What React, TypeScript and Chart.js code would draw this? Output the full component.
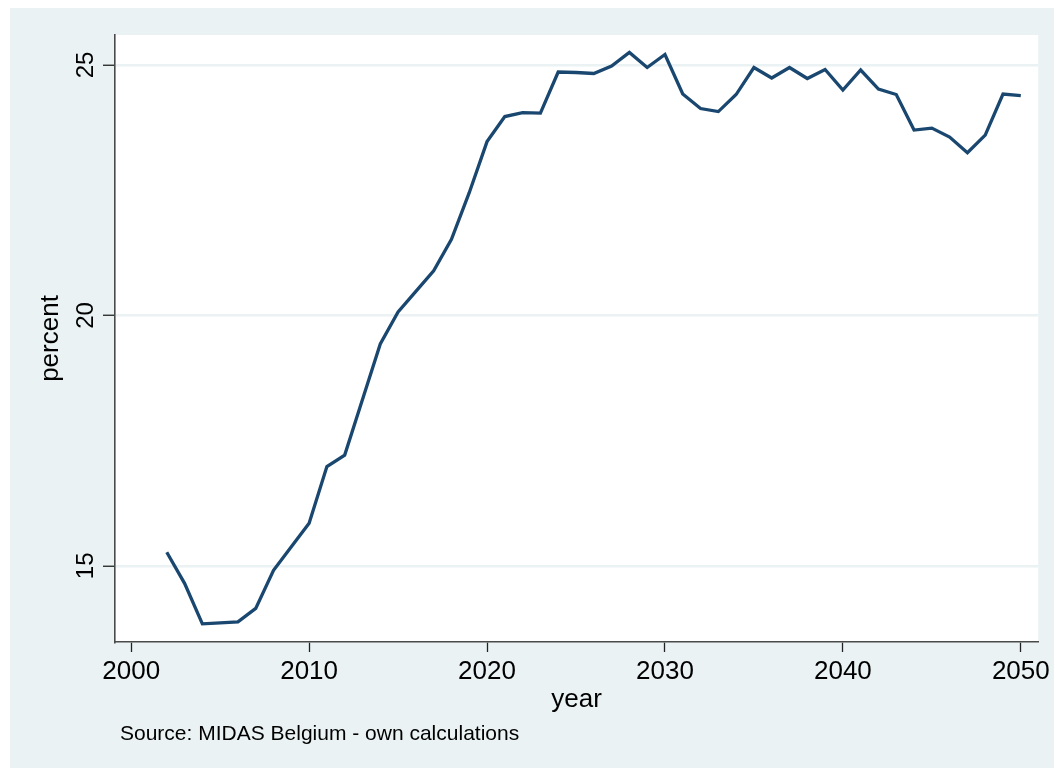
import React, { useEffect, useRef } from "react";
import { Chart, registerables } from "chart.js";

Chart.register(...registerables);

const YEARS = [
  2002, 2003, 2004, 2005, 2006, 2007, 2008, 2009, 2010, 2011,
  2012, 2013, 2014, 2015, 2016, 2017, 2018, 2019, 2020, 2021,
  2022, 2023, 2024, 2025, 2026, 2027, 2028, 2029, 2030, 2031,
  2032, 2033, 2034, 2035, 2036, 2037, 2038, 2039, 2040, 2041,
  2042, 2043, 2044, 2045, 2046, 2047, 2048, 2049, 2050,
];

const PERCENT = [
  15.27, 14.65, 13.84, 13.86, 13.88, 14.15, 14.91, 15.38, 15.85, 16.98,
  17.21, 18.32, 19.43, 20.07, 20.48, 20.89, 21.52, 22.45, 23.47, 23.97,
  24.05, 24.04, 24.86, 24.85, 24.83, 24.98, 25.25, 24.95, 25.21, 24.42,
  24.13, 24.07, 24.41, 24.95, 24.74, 24.95, 24.73, 24.91, 24.5, 24.9,
  24.52, 24.41, 23.7, 23.74, 23.56, 23.25, 23.6, 24.42, 24.39,
];

const X_TICKS = [2000, 2010, 2020, 2030, 2040, 2050];
const Y_TICKS = [15, 20, 25];

const X_TITLE = "year";
const Y_TITLE = "percent";
const SOURCE_NOTE = "Source: MIDAS Belgium - own calculations";

const FONT = "'Liberation Sans', Arial, Helvetica, sans-serif";
const BG = "#EAF2F3";
const LINE = "#1A476F";

export default function App() {
  const ref = useRef<HTMLCanvasElement | null>(null);

  useEffect(() => {
    const canvas = ref.current;
    if (!canvas) return;

    const bgPlugin = {
      id: "stataBg",
      beforeDraw(chart: any) {
        const { ctx, chartArea, width, height } = chart;
        ctx.save();
        ctx.fillStyle = "#ffffff";
        ctx.fillRect(0, 0, width, height);
        ctx.fillStyle = BG;
        ctx.fillRect(10, 8, width - 10, height - 9);
        ctx.fillStyle = "#ffffff";
        ctx.fillRect(
          chartArea.left,
          chartArea.top,
          chartArea.right - chartArea.left,
          chartArea.bottom - chartArea.top
        );
        ctx.restore();
      },
      afterDraw(chart: any) {
        const { ctx } = chart;
        const y = chart.scales.y;
        ctx.save();
        ctx.fillStyle = "#000";
        ctx.font = `24px ${FONT}`;
        ctx.textAlign = "center";
        ctx.textBaseline = "alphabetic";
        for (const t of y.ticks) {
          const py = y.getPixelForValue(t.value);
          ctx.save();
          ctx.translate(93, py);
          ctx.rotate(-Math.PI / 2);
          ctx.fillText(String(t.value), 0, 0);
          ctx.restore();
        }
        ctx.font = `21px ${FONT}`;
        ctx.textAlign = "left";
        ctx.fillText(SOURCE_NOTE, 120, 740);
        ctx.restore();
      },
    };

    const chart = new Chart(canvas, {
      type: "line",
      data: {
        datasets: [
          {
            data: YEARS.map((yr, i) => ({ x: yr, y: PERCENT[i] })),
            borderColor: LINE,
            borderWidth: 3.3,
            pointRadius: 0,
            tension: 0,
            fill: false,
          },
        ],
      },
      plugins: [bgPlugin],
      options: {
        animation: false,
        responsive: false,
        events: [],
        layout: { padding: { left: 0, top: 35, right: 15, bottom: 0 } },
        plugins: {
          legend: { display: false },
          tooltip: { enabled: false },
          title: { display: false },
        },
        scales: {
          x: {
            type: "linear",
            min: 1999.09,
            max: 2050.98,
            afterBuildTicks(scale: any) {
              scale.ticks = X_TICKS.map((v) => ({ value: v }));
            },
            afterFit(scale: any) {
              scale.height = 127;
            },
            grid: {
              drawOnChartArea: false,
              drawTicks: true,
              tickLength: 10,
              tickColor: "#222",
              tickWidth: 1.3,
            },
            border: { display: true, color: "#4a4a4a", width: 1.6 },
            ticks: {
              color: "#000",
              font: { family: FONT, size: 26 },
              padding: 4,
              maxRotation: 0,
              minRotation: 0,
              callback: (v: any) => String(v),
            },
            title: {
              display: true,
              text: X_TITLE,
              color: "#000",
              font: { family: FONT, size: 26 },
              padding: { top: 0, bottom: 54 },
            },
          },
          y: {
            type: "linear",
            min: 13.478,
            max: 25.599,
            afterBuildTicks(scale: any) {
              scale.ticks = Y_TICKS.map((v) => ({ value: v }));
            },
            afterFit(scale: any) {
              scale.width = 115;
            },
            grid: {
              drawOnChartArea: true,
              color: BG,
              lineWidth: 2.5,
              drawTicks: true,
              tickLength: 12,
              tickColor: "#222",
              tickWidth: 1.3,
            },
            border: { display: true, color: "#4a4a4a", width: 1.6 },
            ticks: { display: false },
            title: {
              display: true,
              text: Y_TITLE,
              color: "#000",
              font: { family: FONT, size: 26 },
              padding: { top: 35, bottom: 0 },
            },
          },
        },
      },
    } as any);

    return () => chart.destroy();
  }, []);

  return (
    <div
      style={{
        position: "fixed",
        left: 0,
        top: 0,
        width: 1054,
        height: 769,
        background: "#fff",
      }}
    >
      <canvas ref={ref} width={1054} height={769} style={{ display: "block" }} />
    </div>
  );
}
